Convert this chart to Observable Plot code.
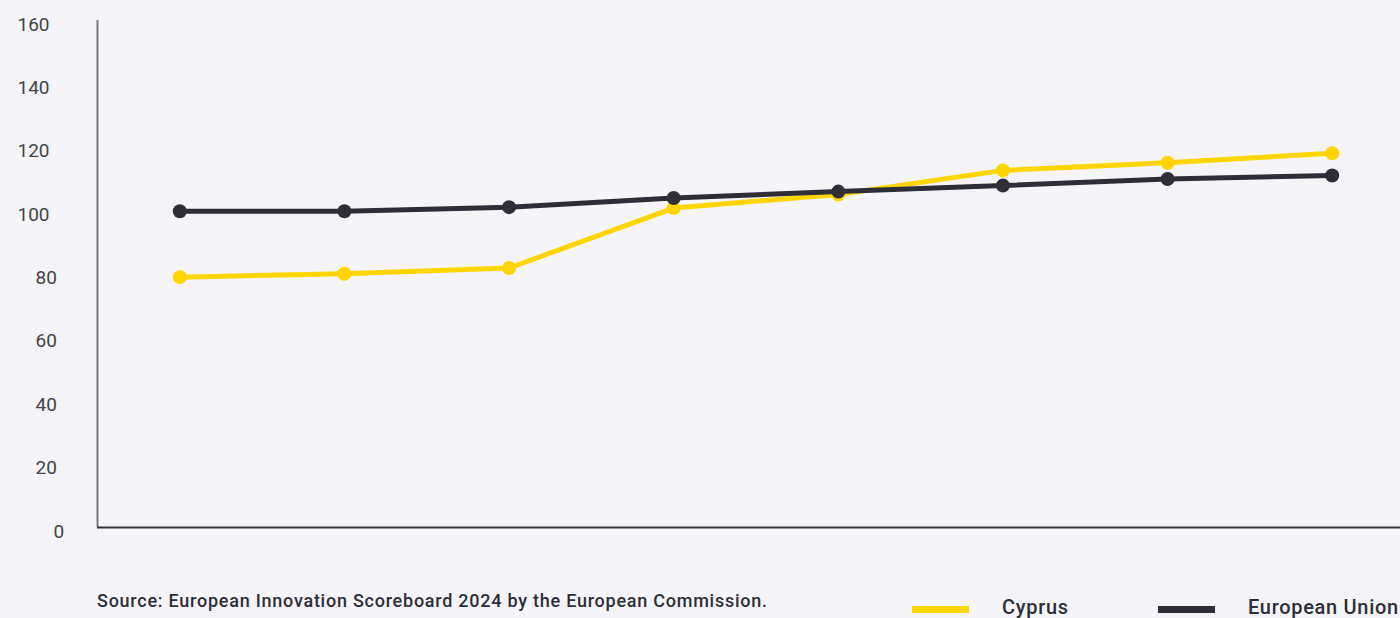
<!DOCTYPE html>
<html>
<head>
<meta charset="utf-8">
<script src="https://cdn.jsdelivr.net/npm/d3@7"></script>
<script src="https://cdn.jsdelivr.net/npm/@observablehq/plot@0.6"></script>
<style>
  html, body { margin: 0; padding: 0; background: #f5f5f9; overflow: hidden; width: 1400px; height: 618px; }
  #chart svg { display: block; }
  #foot { position: relative; width: 1400px; height: 58px; font-family: Roboto, sans-serif; color: #2e2e38; }
  .src { position: absolute; left: 97px; top: 32px; font-size: 18px; letter-spacing: 0.75px; font-weight: 500; white-space: nowrap; line-height: 18px; }
  .sw { position: absolute; height: 7px; top: 46px; }
  .lab { position: absolute; top: 37px; font-size: 20px; letter-spacing: 0.7px; font-weight: 500; white-space: nowrap; line-height: 20px; }
</style>
</head>
<body>
<div id="chart"></div>
<div id="foot"></div>
<script>
const years = [2017, 2018, 2019, 2020, 2021, 2022, 2023, 2024];
const cyprus = [79.0, 80.1, 81.9, 100.8, 105.1, 112.7, 115.1, 118.1];
const eu = [99.8, 99.8, 101.1, 104.0, 106.0, 107.9, 110.0, 111.1];
const seriesNames = ["Cyprus", "European Union"];
const seriesColors = ["#ffd500", "#2e2e38"];
const yTicks = [0, 20, 40, 60, 80, 100, 120, 140, 160];
const sourceText = "Source: European Innovation Scoreboard 2024 by the European Commission.";

const data = [
  ...years.map((y, i) => ({year: y, value: cyprus[i], series: seriesNames[0]})),
  ...years.map((y, i) => ({year: y, value: eu[i], series: seriesNames[1]}))
];
const cy = data.filter(d => d.series === seriesNames[0]);
const ee = data.filter(d => d.series === seriesNames[1]);

const labelOpts = (dx) => ({y: d => d, text: d => String(d), frameAnchor: "left", dx, dy: 4, textAnchor: "start", fontSize: 19, fill: "#444"});

const chart = Plot.plot({
  width: 1400,
  height: 560,
  marginLeft: 97,
  marginRight: 0,
  marginTop: 20,
  marginBottom: 33,
  style: {background: "#f5f5f9", fontFamily: "Roboto, sans-serif", overflow: "visible"},
  x: {type: "linear", domain: [years[0] - 0.5, years[years.length - 1] + 0.5], range: [97, 1414], axis: null},
  y: {domain: [0, 160], axis: null},
  color: {domain: seriesNames, range: seriesColors},
  marks: [
    Plot.text(yTicks.filter(t => String(t).length === 3), labelOpts(-80)),
    Plot.text(yTicks.filter(t => String(t).length === 2), labelOpts(-62)),
    Plot.text(yTicks.filter(t => String(t).length === 1), labelOpts(-44)),
    Plot.ruleX([years[0] - 0.5], {y1: 0, y2: 160, stroke: "#7a7a7a", strokeWidth: 2}),
    Plot.ruleY([0], {stroke: "#333338", strokeWidth: 2}),
    Plot.line(cy, {x: "year", y: "value", stroke: "series", strokeWidth: 5, strokeLinejoin: "round"}),
    Plot.dot(cy, {x: "year", y: "value", fill: "series", r: 7}),
    Plot.line(ee, {x: "year", y: "value", stroke: "series", strokeWidth: 5, strokeLinejoin: "round"}),
    Plot.dot(ee, {x: "year", y: "value", fill: "series", r: 7})
  ]
});
document.getElementById("chart").appendChild(chart);

const foot = document.getElementById("foot");
const src = document.createElement("div");
src.className = "src";
src.textContent = sourceText;
foot.appendChild(src);
const legendPos = [{sw: 912, lab: 1002}, {sw: 1158, lab: 1248}];
seriesNames.forEach((name, i) => {
  const sw = document.createElement("div");
  sw.className = "sw";
  sw.style.left = legendPos[i].sw + "px";
  sw.style.width = "57px";
  sw.style.background = seriesColors[i];
  foot.appendChild(sw);
  const lab = document.createElement("div");
  lab.className = "lab";
  lab.style.left = legendPos[i].lab + "px";
  lab.textContent = name;
  foot.appendChild(lab);
});
</script>
</body>
</html>
